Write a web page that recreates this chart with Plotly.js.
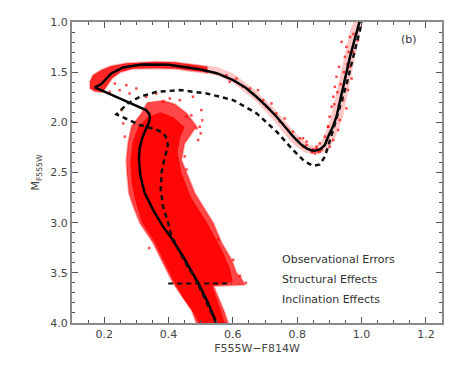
<!DOCTYPE html>
<html>
<head>
<meta charset="utf-8">
<script src="https://cdn.plot.ly/plotly-3.0.1.min.js"></script>
<style>html,body{margin:0;padding:0;background:#fff;}#chart{width:463px;height:370px;}</style>
</head>
<body>
<div id="chart"></div>
<script>
// ---- Data (colour F555W-F814W, magnitude M_F555W) ----
// Main-sequence / turnoff cloud: outer envelope
const msLeftX  = [0.335,0.316,0.285,0.274,0.269,0.271,0.277,0.292,0.311,0.352,0.378,0.399,0.414,0.435,0.471,0.487];
const msLeftM  = [1.80, 1.91, 2.04, 2.21, 2.375,2.507,2.706,2.85, 3.004,3.20, 3.37, 3.50, 3.60, 3.70, 3.866,4.00];
const msRightX = [0.585,0.575,0.560,0.545,0.540,0.637,0.625,0.611,0.596,0.565,0.539,0.482,0.456,0.440,0.450,0.487,0.456,0.420,0.380];
const msRightM = [4.00, 3.90, 3.78, 3.68, 3.63, 3.62, 3.55, 3.50, 3.37, 3.20, 3.004,2.706,2.507,2.375,2.21, 2.04, 1.91, 1.82, 1.78];
// Main-sequence dense core
const coreLeftX  = [0.335,0.305,0.288,0.281,0.285,0.298,0.318,0.358,0.388,0.418,0.445,0.478,0.495];
const coreLeftM  = [1.95, 2.05, 2.20, 2.40, 2.60, 2.80, 3.00, 3.20, 3.40, 3.60, 3.75, 3.90, 4.00];
const coreRightX = [0.575,0.560,0.542,0.536,0.600,0.590,0.570,0.545,0.520,0.470,0.440,0.428,0.436,0.450,0.415,0.375];
const coreRightM = [4.00, 3.85, 3.70, 3.63, 3.59, 3.45, 3.30, 3.15, 3.00, 2.75, 2.50, 2.30, 2.15, 2.05, 1.95, 1.90];
// Subgiant branch dense band
const sgbUpperX = [0.155,0.165,0.19,0.22,0.27,0.36,0.42,0.47,0.52];
const sgbUpperM = [1.60, 1.53, 1.48,1.44,1.41,1.395,1.40,1.425,1.445];
const sgbLowerX = [0.52,0.47,0.42,0.36,0.29,0.25,0.225,0.21,0.195,0.17,0.155];
const sgbLowerM = [1.50,1.485,1.465,1.46,1.465,1.50,1.56,1.63,1.70,1.69,1.66];
// Sparse giant-branch envelope
const rgbUpperX = [0.45,0.55,0.60,0.67,0.73,0.79,0.83,0.855,0.875,0.89,0.905,0.925,0.945,0.965,0.978];
const rgbUpperM = [1.41,1.445,1.51,1.68,1.87,2.09,2.21,2.24,2.19,2.08,1.94,1.65,1.35,1.08,0.98];
const rgbLowerX = [1.005,0.992,0.977,0.962,0.942,0.918,0.897,0.862,0.822,0.782,0.732,0.672,0.602,0.55,0.45];
const rgbLowerM = [0.98, 1.15, 1.40, 1.65, 1.95, 2.15, 2.28, 2.32, 2.30, 2.20, 2.00, 1.79, 1.61, 1.53, 1.49];
// Sparse stars (red giant branch and outliers)
const starX = [0.938,0.953,0.964,0.974,0.989,0.948,0.930,0.964,0.922,0.969,0.917,0.958,0.912,0.943,0.907,0.953,0.901,0.932,0.896,0.927,0.886,0.912,0.870,0.901,0.829,0.818,0.849,0.875,
  0.518,0.549,0.580,0.590,0.611,0.632,0.653,0.663,0.678,0.694,0.704,0.720,0.735,0.746,0.761,0.772,0.787,0.798,0.808,0.818,0.829,0.844,0.860,0.870,0.891,0.896,
  0.233,0.248,0.269,0.279,0.217,0.300,0.331,0.362,0.404,0.435,0.476,0.383,0.456,0.497,0.492,0.502,0.254,0.259,0.264,
  0.340,0.471,0.487,0.450,0.456,0.554,0.601,0.622,0.640,0.505,0.500,
  0.845,0.855,0.865,0.850,0.860,0.925,0.935,0.915,0.945,0.955,0.960,0.975];
const starM = [1.198,1.248,1.149,1.298,1.182,1.347,1.447,1.447,1.546,1.563,1.646,1.679,1.745,1.778,1.844,1.861,1.944,1.977,2.043,2.076,2.143,2.176,2.209,2.242,2.192,2.159,2.292,2.275,
  1.497,1.514,1.530,1.596,1.563,1.646,1.663,1.712,1.679,1.779,1.845,1.812,1.911,1.994,1.961,2.077,2.093,2.176,2.160,2.242,2.226,2.276,2.242,2.292,2.176,2.044,
  1.613,1.679,1.630,1.712,1.696,1.663,1.745,1.712,1.762,1.779,1.745,1.795,1.944,2.044,2.176,1.878,1.878,2.011,2.143,
  3.253,1.930,2.060,2.340,2.470,3.170,3.370,3.530,3.600,1.980,2.110,
  2.300,2.310,2.295,2.270,2.265,1.700,1.620,1.820,1.500,1.420,1.300,1.120];
// Best-fit isochrone (solid)
const solidX = [0.549,0.523,0.492,0.470,0.445,0.409,0.383,0.352,0.326,0.313,0.308,0.310,0.318,0.328,0.338,0.342,0.340,0.330,0.290,0.248,0.171,0.191,0.222,0.259,0.316,0.40,0.497,0.55,0.601,0.640,0.673,0.705,0.736,0.762,0.788,0.810,0.829,0.843,0.855,0.872,0.886,0.896,0.910,0.922,0.933,0.943,0.964,0.985,0.995];
const solidM = [4.00, 3.80, 3.60, 3.47, 3.336,3.153,3.04, 2.872,2.706,2.54, 2.375,2.26, 2.16, 2.08, 2.01, 1.96, 1.915,1.878,1.818,1.762,1.652,1.619,1.513,1.453,1.424,1.425,1.47, 1.51,1.58, 1.655,1.745,1.84, 1.944,2.045,2.143,2.215,2.259,2.278,2.282,2.268,2.226,2.143,2.05, 1.944,1.80, 1.646,1.348,1.083,0.98];
// Shifted isochrone (dashed)
const dashX = [0.548,0.52,0.49,0.482,0.45,0.419,0.409,0.399,0.383,0.376,0.378,0.388,0.398,0.396,0.385,0.360,0.311,0.238,0.274,0.311,0.363,0.435,0.518,0.601,0.674,0.736,0.787,0.824,0.85,0.870,0.886,0.907,0.927,0.954,0.974,0.995,1.0];
const dashM = [4.00, 3.80,3.60,3.55, 3.386,3.19, 3.137,3.004,2.839,2.673,2.507,2.35, 2.25, 2.17, 2.11, 2.07, 2.027,1.92, 1.811,1.745,1.696,1.679,1.712,1.778,1.911,2.093,2.275,2.392,2.434,2.420,2.342,2.126,1.911,1.612,1.348,1.083,0.98];
// Horizontal dashed limit
const limitX = [0.399,0.596];
const limitM = [3.607,3.607];
// Labels
const legendTexts = ["Observational Errors","Structural Effects","Inclination Effects"];
const legendM = [3.369,3.568,3.767];
const xTitle = "F555W\u2212F814W";
const yTitle = "M<sub>F555W</sub>";

// ---- Traces ----
const poly = (ax, am, bx, bm) => ({x: ax.concat(bx), y: am.concat(bm)});
const ms = poly(msLeftX, msLeftM, msRightX, msRightM);
const core = poly(coreLeftX, coreLeftM, coreRightX, coreRightM);
const sgb = poly(sgbUpperX, sgbUpperM, sgbLowerX, sgbLowerM);
const rgb = poly(rgbUpperX, rgbUpperM, rgbLowerX, rgbLowerM);

const traces = [
  {x: rgb.x, y: rgb.y, mode:'lines', fill:'toself', fillcolor:'rgba(255,0,0,0.22)', line:{width:0}, hoverinfo:'skip'},
  {x: ms.x, y: ms.y, mode:'lines', fill:'toself', fillcolor:'rgba(255,0,0,0.72)', line:{color:'rgba(255,0,0,0.3)', width:2}, hoverinfo:'skip'},
  {x: core.x, y: core.y, mode:'lines', fill:'toself', fillcolor:'rgba(255,0,0,0.9)', line:{width:0}, hoverinfo:'skip'},
  {x: sgb.x, y: sgb.y, mode:'lines', fill:'toself', fillcolor:'rgba(255,0,0,0.85)', line:{color:'rgba(255,0,0,0.3)', width:2}, hoverinfo:'skip'},
  {x: starX, y: starM, mode:'markers', marker:{symbol:'square', size:2.5, color:'rgba(255,0,0,0.7)'}, hoverinfo:'skip'},
  {x: solidX, y: solidM, mode:'lines', line:{color:'#000', width:2.5}},
  {x: dashX, y: dashM, mode:'lines', line:{color:'#111', width:2.5, dash:'5px,4px'}},
  {x: limitX, y: limitM, mode:'lines', line:{color:'#111', width:2, dash:'5px,4px'}}
];

const font = {family:'"DejaVu Sans", Arial, sans-serif', size:11, color:'#444'};
const annotations = legendTexts.map((t,i)=>({x:0.748, y:legendM[i], xref:'x', yref:'y', text:t, showarrow:false, xanchor:'left', yanchor:'middle', font:{family:font.family, size:11, color:'#333'}}));
annotations.push({x:1.147, y:1.172, xref:'x', yref:'y', text:'(b)', showarrow:false, xanchor:'center', yanchor:'middle', font:{family:font.family, size:11, color:'#333'}});

const axisCommon = {showgrid:false, zeroline:false, showline:true, linecolor:'#8a8a8a', linewidth:2, mirror:'allticks', ticks:'inside', tickcolor:'#555', tickwidth:1, ticklen:6, tickformat:'.1f', tickfont:font};

const layout = {
  width:463, height:370,
  margin:{l:72, r:21, t:22, b:47},
  paper_bgcolor:'#fff', plot_bgcolor:'#fff',
  showlegend:false,
  font: font,
  xaxis: Object.assign({}, axisCommon, {range:[0.1,1.25], dtick:0.2, tick0:0, minor:{dtick:0.05, ticks:'inside', ticklen:3, tickcolor:'#555'}, title:{text:xTitle, font:font, standoff:4}}),
  yaxis: Object.assign({}, axisCommon, {range:[4.0,1.0], dtick:0.5, tick0:0, minor:{dtick:0.1, ticks:'inside', ticklen:3, tickcolor:'#555'}, title:{text:yTitle, font:font, standoff:8}}),
  annotations: annotations
};

Plotly.newPlot('chart', traces, layout, {staticPlot:true, displayModeBar:false});
</script>
</body>
</html>
